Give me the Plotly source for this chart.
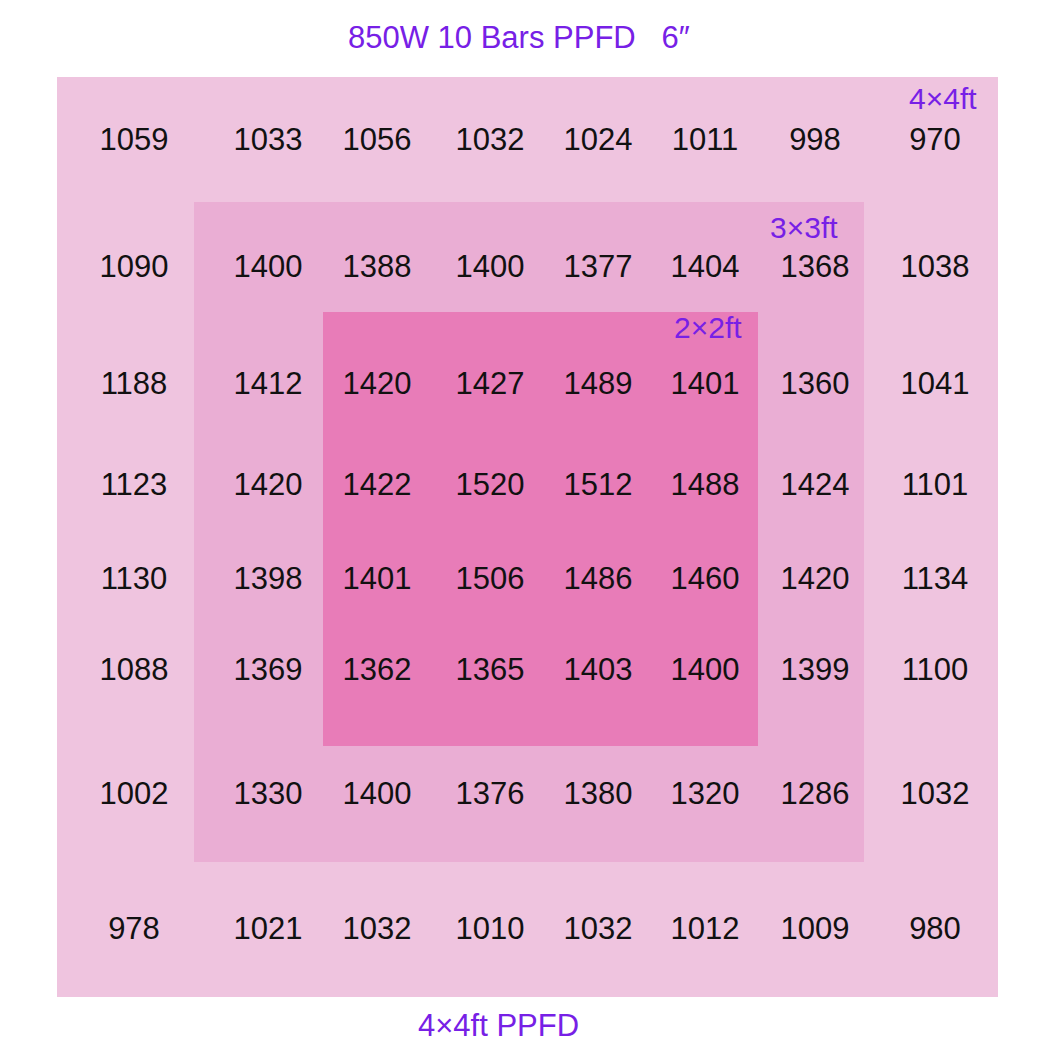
import plotly.graph_objects as go

# PPFD readings, row by row (top to bottom), 8 columns each
row1 = [1059, 1033, 1056, 1032, 1024, 1011, 998, 970]
row2 = [1090, 1400, 1388, 1400, 1377, 1404, 1368, 1038]
row3 = [1188, 1412, 1420, 1427, 1489, 1401, 1360, 1041]
row4 = [1123, 1420, 1422, 1520, 1512, 1488, 1424, 1101]
row5 = [1130, 1398, 1401, 1506, 1486, 1460, 1420, 1134]
row6 = [1088, 1369, 1362, 1365, 1403, 1400, 1399, 1100]
row7 = [1002, 1330, 1400, 1376, 1380, 1320, 1286, 1032]
row8 = [978, 1021, 1032, 1010, 1032, 1012, 1009, 980]
rows = [row1, row2, row3, row4, row5, row6, row7, row8]

title = "850W 10 Bars PPFD   6\u2033"
bottom_label = "4\u00d74ft PPFD"
zone_labels = ["4\u00d74ft", "3\u00d73ft", "2\u00d72ft"]

# layout (pixel-like coordinate system of the page)
PAGE_OFFSET = 8  # default body margin of the html page
TEXT_DY = 3      # glyph centre vs. line-box centre
col_x = [134, 268, 377, 490, 598, 705, 815, 935]
row_y = [139, 266, 383, 484, 578, 669, 793, 928]
zones = [  # x0, y0, x1, y1, color
    (57, 77, 998, 997, "#EFC4DF"),
    (194, 202, 864, 862, "#EAAED4"),
    (323, 312, 758, 746, "#E87CB8"),
]
zone_label_pos = [(943, 98), (804, 227), (708, 327)]
PURPLE = "#7720E6"
FONT = "Liberation Sans, Arial, sans-serif"

xs, ys, texts = [], [], []
for r, vals in enumerate(rows):
    for c, v in enumerate(vals):
        xs.append(col_x[c])
        ys.append(row_y[r] + TEXT_DY)
        texts.append(str(v))

fig = go.Figure()
fig.add_trace(go.Scatter(
    x=xs, y=ys, text=texts, mode="text",
    textfont=dict(family=FONT, size=31, color="#111111"),
    hoverinfo="skip", showlegend=False,
))

for x0, y0, x1, y1, col in zones:
    fig.add_shape(type="rect", x0=x0, y0=y0, x1=x1, y1=y1,
                  fillcolor=col, line=dict(width=0), layer="below")

for (lx, ly), lab in zip(zone_label_pos, zone_labels):
    fig.add_annotation(x=lx, y=ly, text=lab, showarrow=False,
                       font=dict(family=FONT, size=30, color=PURPLE))

fig.add_annotation(x=519, y=37, text=title, showarrow=False,
                   font=dict(family=FONT, size=31, color=PURPLE))
fig.add_annotation(x=498, y=1025, text=bottom_label, showarrow=False,
                   font=dict(family=FONT, size=31, color=PURPLE))

fig.update_layout(
    width=1060, height=1060,
    margin=dict(l=0, r=0, t=0, b=0),
    paper_bgcolor="white", plot_bgcolor="white",
    xaxis=dict(range=[PAGE_OFFSET, 1060 + PAGE_OFFSET], visible=False, fixedrange=True),
    yaxis=dict(range=[1060 + PAGE_OFFSET, PAGE_OFFSET], visible=False, fixedrange=True),
)

fig.write_html("out.html")
